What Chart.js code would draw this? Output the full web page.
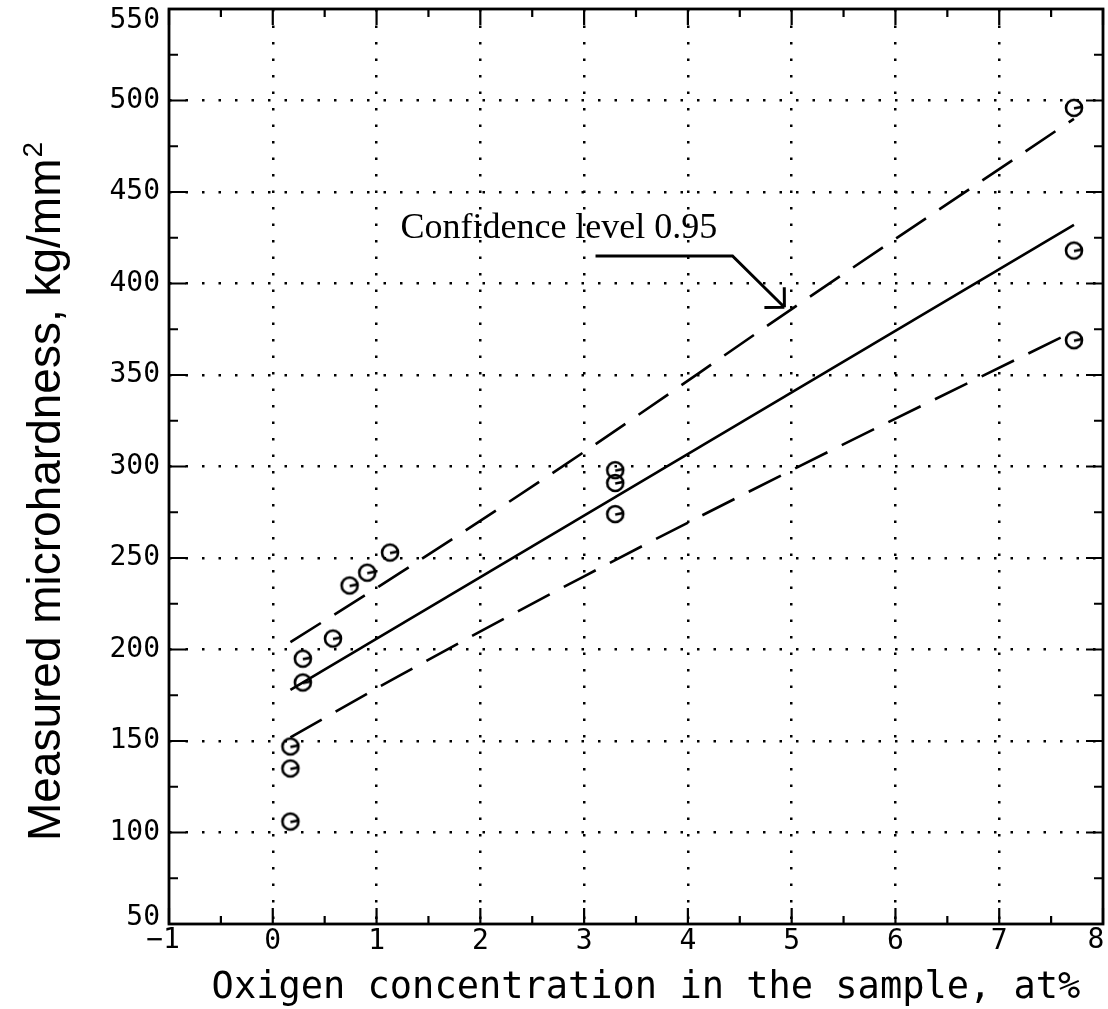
<!DOCTYPE html>
<html>
<head>
<meta charset="utf-8">
<title>Measured microhardness vs oxygen concentration</title>
<script src="https://cdn.jsdelivr.net/npm/chart.js@4.4.1/dist/chart.umd.min.js"></script>
<style>
  html, body { margin: 0; padding: 0; background: #fff; }
  #chart { display: block; }
</style>
</head>
<body>
<canvas id="chart" width="1108" height="1009"></canvas>
<script>
// measured points
const oxygenX = [0.17, 0.17, 0.17, 0.29, 0.29, 0.58, 0.74, 0.91, 1.13, 3.30, 3.30, 3.30, 7.72, 7.72, 7.72];
const hardnessY = [106, 135, 147, 182, 195, 206, 235, 242, 253, 298, 291, 274, 496, 418, 369];

// regression line
const fitX = [0.17, 7.72];
const fitY = [178, 432];

// 0.95 confidence band
const bandX = [0.17, 1.23, 3.0, 5.0, 7.72];
const bandUpper = [204, 242, 308, 386, 490];
const bandLower = [152, 186, 240, 298, 374];

// annotation
const noteText = 'Confidence level 0.95';
const noteX = 1.23;
const noteY = 425;
const leaderX = [3.11, 4.43, 4.93];
const leaderY = [415, 415, 387];

// axes
const xTickValues = [-1, 0, 1, 2, 3, 4, 5, 6, 7, 8];
const yTickValues = [50, 100, 150, 200, 250, 300, 350, 400, 450, 500, 550];
const xTitle = 'Oxigen concentration in the sample, at%';
const yTitle = 'Measured microhardness, kg/mm';
const yTitleSup = '2';

const toPoints = (xs, ys) => xs.map((x, i) => ({ x: x, y: ys[i] }));
const halves = vals => vals.slice(1).map((v, i) => (v + vals[i]) / 2);
const fmt = v => String(v).replace('-', '\u2212');
const xMin = xTickValues[0];
const xMax = xTickValues[xTickValues.length - 1];
const yMin = yTickValues[0];
const yMax = yTickValues[yTickValues.length - 1];

// circle with a little stroke inside, like the plotter glyph
function makeMarker() {
    const c = document.createElement('canvas');
    c.width = 24;
    c.height = 24;
    const g = c.getContext('2d');
    g.strokeStyle = '#000';
    g.lineWidth = 2.6;
    g.beginPath();
    g.arc(12, 12, 8, 0, Math.PI * 2);
    g.stroke();
    g.beginPath();
    g.moveTo(12, 12.5);
    g.lineTo(19.5, 11);
    g.stroke();
    return c;
}

const hideEdges = (lo, hi) => c =>
    (c.tick && (c.tick.value === lo || c.tick.value === hi)) ? 'rgba(0,0,0,0)' : '#000';

const tickFont = { family: '"DejaVu Sans Mono", monospace', size: 28 };

const framePlugin = {
    id: 'frame',
    afterDraw(chart) {
        const { ctx, chartArea: a, scales: { x, y } } = chart;
        ctx.save();
        ctx.strokeStyle = '#000';
        ctx.fillStyle = '#000';

        // inward ticks on all four sides
        ctx.lineWidth = 2.2;
        ctx.beginPath();
        const xt = xTickValues.map(v => [v, 16]).concat(halves(xTickValues).map(v => [v, 8]));
        xt.forEach(([v, len]) => {
            const px = x.getPixelForValue(v);
            ctx.moveTo(px, a.bottom); ctx.lineTo(px, a.bottom - len);
            ctx.moveTo(px, a.top); ctx.lineTo(px, a.top + len);
        });
        const yt = yTickValues.map(v => [v, 17]).concat(halves(yTickValues).map(v => [v, 9]));
        yt.forEach(([v, len]) => {
            const py = y.getPixelForValue(v);
            ctx.moveTo(a.left, py); ctx.lineTo(a.left + len, py);
            ctx.moveTo(a.right, py); ctx.lineTo(a.right - len, py);
        });
        ctx.stroke();

        ctx.lineWidth = 2.8;
        ctx.strokeRect(a.left, a.top, a.right - a.left, a.bottom - a.top);

        // end labels sit pulled in toward the plot, as in the original
        ctx.font = tickFont.size + 'px ' + tickFont.family;
        ctx.textAlign = 'right';
        ctx.textBaseline = 'middle';
        ctx.fillText(fmt(yMax), a.left - 9, y.getPixelForValue(yMax) + 12);
        ctx.fillText(fmt(yMin), a.left - 9, y.getPixelForValue(yMin) - 6);
        ctx.textAlign = 'center';
        ctx.fillText(fmt(xMin), x.getPixelForValue(xMin) - 6, a.bottom + 17);
        ctx.fillText(fmt(xMax), x.getPixelForValue(xMax) - 7, a.bottom + 17);

        // annotation text + leader arrow
        ctx.font = '36px "Liberation Serif", "Times New Roman", serif';
        ctx.textAlign = 'left';
        ctx.textBaseline = 'alphabetic';
        ctx.fillText(noteText, x.getPixelForValue(noteX), y.getPixelForValue(noteY));

        const pts = leaderX.map((v, i) => [x.getPixelForValue(v), y.getPixelForValue(leaderY[i])]);
        ctx.lineWidth = 3;
        ctx.beginPath();
        pts.forEach(([px, py], i) => i ? ctx.lineTo(px, py) : ctx.moveTo(px, py));
        const [tx, ty] = pts[pts.length - 1];
        const [sx, sy] = pts[pts.length - 2];
        const ang = Math.atan2(sy - ty, sx - tx);
        [ang - Math.PI / 4, ang + Math.PI / 4].forEach(b => {
            ctx.moveTo(tx, ty);
            ctx.lineTo(tx + 20 * Math.cos(b), ty + 20 * Math.sin(b));
        });
        ctx.stroke();

        // horizontal axis title
        ctx.font = '37px "DejaVu Sans Mono", monospace';
        ctx.textAlign = 'center';
        ctx.textBaseline = 'middle';
        ctx.fillText(xTitle, 646, 988);

        // vertical axis title with superscript
        ctx.textAlign = 'left';
        ctx.textBaseline = 'alphabetic';
        ctx.translate(60, 492);
        ctx.rotate(-Math.PI / 2);
        const mainFont = '46px "Liberation Sans", Arial, sans-serif';
        const supFont = '28px "Liberation Sans", Arial, sans-serif';
        ctx.font = mainFont;
        const w1 = ctx.measureText(yTitle).width;
        ctx.font = supFont;
        const w2 = ctx.measureText(yTitleSup).width;
        const start = -(w1 + w2) / 2;
        ctx.font = mainFont;
        ctx.fillText(yTitle, start, 0);
        ctx.font = supFont;
        ctx.fillText(yTitleSup, start + w1 + 1, -18);
        ctx.restore();
    }
};

new Chart(document.getElementById('chart'), {
    type: 'scatter',
    plugins: [framePlugin],
    data: {
        datasets: [
            {
                label: 'measured',
                data: toPoints(oxygenX, hardnessY),
                pointStyle: makeMarker(),
                pointRadius: 9,
                showLine: false,
            },
            {
                label: 'fit',
                data: toPoints(fitX, fitY),
                showLine: true,
                borderColor: '#000',
                borderWidth: 2.6,
                pointRadius: 0,
            },
            {
                label: 'upper 0.95',
                data: toPoints(bandX, bandUpper),
                showLine: true,
                borderColor: '#000',
                borderWidth: 2.6,
                borderDash: [36, 16],
                cubicInterpolationMode: 'monotone',
                pointRadius: 0,
            },
            {
                label: 'lower 0.95',
                data: toPoints(bandX, bandLower),
                showLine: true,
                borderColor: '#000',
                borderWidth: 2.6,
                borderDash: [36, 16],
                cubicInterpolationMode: 'monotone',
                pointRadius: 0,
            },
        ],
    },
    options: {
        responsive: false,
        animation: false,
        layout: { autoPadding: false, padding: { top: 9, right: 5, left: 0, bottom: 0 } },
        plugins: {
            legend: { display: false },
            tooltip: { enabled: false },
        },
        scales: {
            x: {
                type: 'linear',
                min: xMin,
                max: xMax,
                afterBuildTicks: s => { s.ticks = xTickValues.map(v => ({ value: v })); },
                afterFit: s => { s.height = 85; s.paddingLeft = 0; s.paddingRight = 0; },
                grid: { color: hideEdges(xMin, xMax), lineWidth: 2.5, drawTicks: false },
                border: { display: false, dash: [2.5, 14] },
                ticks: {
                    font: tickFont,
                    color: '#000',
                    padding: 1,
                    maxRotation: 0,
                    callback: v => (v === xMin || v === xMax) ? '' : fmt(v),
                },
            },
            y: {
                type: 'linear',
                min: yMin,
                max: yMax,
                afterBuildTicks: s => { s.ticks = yTickValues.map(v => ({ value: v })); },
                afterFit: s => { s.width = 169; s.paddingTop = 0; s.paddingBottom = 0; },
                grid: { color: hideEdges(yMin, yMax), lineWidth: 2.5, drawTicks: false },
                border: { display: false, dash: [2.5, 14] },
                ticks: {
                    font: tickFont,
                    color: '#000',
                    padding: 9,
                    callback: v => (v === yMin || v === yMax) ? '' : fmt(v),
                },
            },
        },
    },
});
</script>
</body>
</html>
